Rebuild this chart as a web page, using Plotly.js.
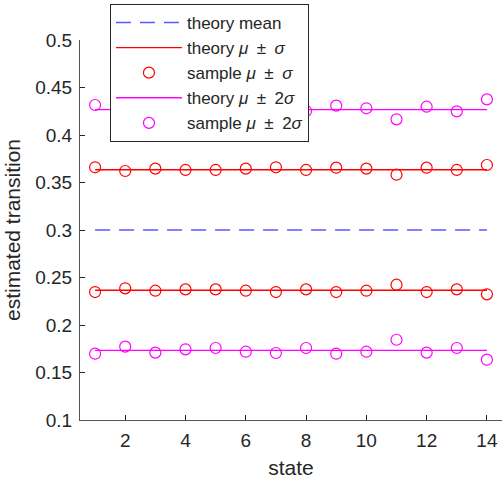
<!DOCTYPE html>
<html>
<head>
<meta charset="utf-8">
<script src="https://cdn.plot.ly/plotly-3.0.1.min.js"></script>
<style>html,body{margin:0;padding:0;background:#fff;}#chart{width:502px;height:491px;}</style>
</head>
<body>
<div id="chart"></div>
<script>
// states
const states = [1,2,3,4,5,6,7,8,9,10,11,12,13,14];
// theory levels
const theoryMean = 0.3;
const theoryPlus1 = 0.3634;
const theoryMinus1 = 0.2366;
const theoryPlus2 = 0.4268;
const theoryMinus2 = 0.1732;
// sample mu + sigma / mu - sigma
const samplePlus1  = [0.3660,0.3621,0.3646,0.3632,0.3632,0.3646,0.3660,0.3632,0.3656,0.3646,0.3582,0.3656,0.3632,0.3684];
const sampleMinus1 = [0.2347,0.2386,0.2361,0.2375,0.2375,0.2361,0.2347,0.2375,0.2347,0.2361,0.2424,0.2347,0.2375,0.2323];
// sample mu + 2sigma / mu - 2sigma
const samplePlus2  = [0.4316,0.4238,0.4300,0.4266,0.4252,0.4290,0.4305,0.4252,0.4309,0.4281,0.4165,0.4298,0.4249,0.4375];
const sampleMinus2 = [0.1698,0.1772,0.1709,0.1744,0.1758,0.1719,0.1705,0.1758,0.1698,0.1719,0.1845,0.1709,0.1758,0.1635];
// ticks
const xTicks = [2,4,6,8,10,12,14];
const yTicks = [0.1,0.15,0.2,0.25,0.3,0.35,0.4,0.45,0.5];
const yTickText = ['0.1','0.15','0.2','0.25','0.3','0.35','0.4','0.45','0.5'];

const sp = '\u2002';
const x0 = states[0], x1 = states[states.length-1];
const traces = [
  {x:[x0,x1], y:[theoryMean,theoryMean], mode:'lines', name:'theory mean',
   line:{color:'#5a5aff', width:1.5, dash:'15px,9px'}},
  {x:[x0,x1,null,x0,x1], y:[theoryPlus1,theoryPlus1,null,theoryMinus1,theoryMinus1], mode:'lines',
   name:'theory <i>μ</i>'+sp+'±'+sp+'<i>σ</i>', line:{color:'#ff0000', width:1.3}},
  {x:states.concat(states), y:samplePlus1.concat(sampleMinus1), mode:'markers',
   name:'sample <i>μ</i>'+sp+'±'+sp+'<i>σ</i>', marker:{symbol:'circle-open', size:11, color:'#ff0000', line:{width:1.2}}},
  {x:[x0,x1,null,x0,x1], y:[theoryPlus2,theoryPlus2,null,theoryMinus2,theoryMinus2], mode:'lines',
   name:'theory <i>μ</i>'+sp+'±'+sp+'2<i>σ</i>', line:{color:'#ff00ff', width:1.3}},
  {x:states.concat(states), y:samplePlus2.concat(sampleMinus2), mode:'markers',
   name:'sample <i>μ</i>'+sp+'±'+sp+'2<i>σ</i>', marker:{symbol:'circle-open', size:11, color:'#ff00ff', line:{width:1.2}}}
];

const layout = {
  width:502, height:491,
  margin:{l:80, r:0, t:40, b:71},
  paper_bgcolor:'#fff', plot_bgcolor:'#fff',
  font:{family:'"Liberation Sans", Arial, sans-serif', size:19, color:'#262626'},
  showlegend:true,
  legend:{x:0.071, y:1.095, xanchor:'left', yanchor:'top', bgcolor:'#fff',
          bordercolor:'#262626', borderwidth:1, font:{size:17, color:'#262626'},
          itemwidth:66, tracegroupgap:0},
  xaxis:{range:[0.5,14.5], tickvals:xTicks, ticks:'inside', ticklen:5, tickcolor:'#262626',
         showline:true, linecolor:'#555', linewidth:1, showgrid:false, zeroline:false,
         ticklabelstandoff:3,
         title:{text:'state', font:{size:21}, standoff:10}},
  yaxis:{range:[0.1,0.5], tickvals:yTicks, ticktext:yTickText, ticks:'inside', ticklen:5, tickcolor:'#262626',
         showline:true, linecolor:'#555', linewidth:1, showgrid:false, zeroline:false,
         ticklabelstandoff:3,
         title:{text:'estimated transition', font:{size:21}, standoff:8}}
};
Plotly.newPlot('chart', traces, layout, {displayModeBar:false, staticPlot:true});
</script>
</body>
</html>
